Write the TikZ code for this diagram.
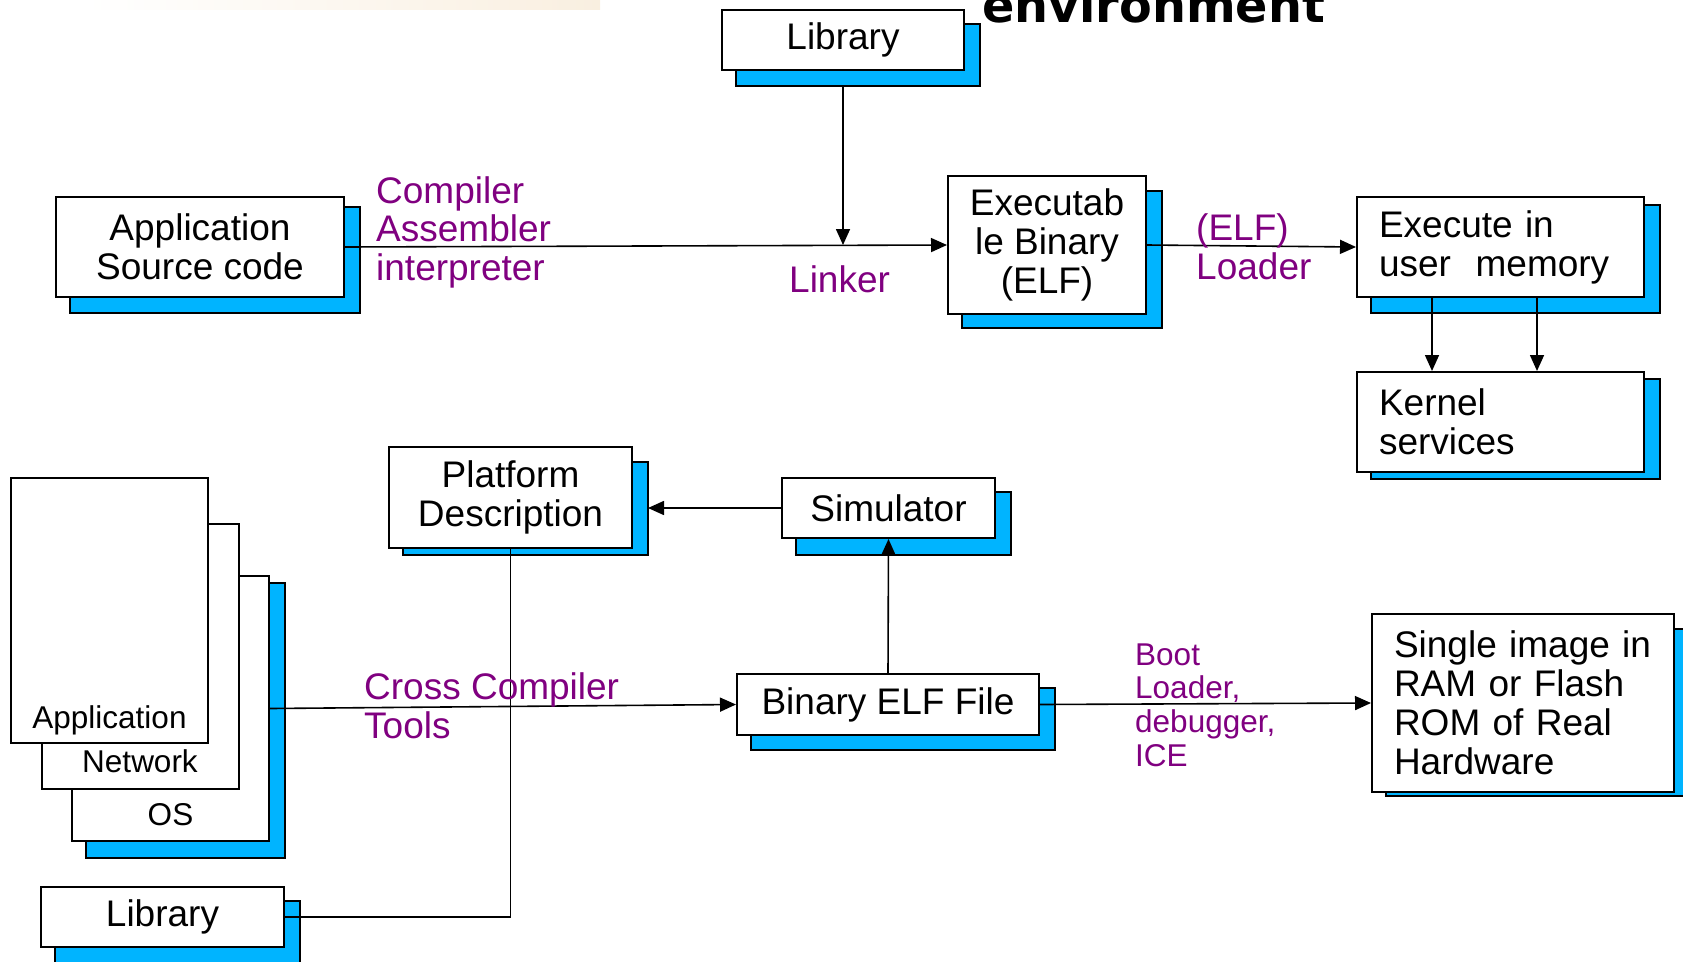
\documentclass[tikz,border=0pt]{standalone}
\usepackage{fontspec}
\setmainfont{Liberation Sans}
\newfontfamily\titlefont{DejaVu Sans}
\definecolor{shadowblue}{RGB}{0, 180, 255}
\definecolor{purple1}{RGB}{128, 0, 128}
\definecolor{beige1}{RGB}{249, 239, 224}
\usetikzlibrary{arrows.meta, positioning, calc, backgrounds}

\begin{document}
\begin{tikzpicture}[x=1pt, y=-1pt,
    box/.style={draw, fill=white, line width=2pt, inner sep=0pt, align=center, font=\fontsize{37}{39}\selectfont},
    page/.style={draw, fill=white, line width=2pt, minimum width=197pt, minimum height=265pt},
    backbox/.style={draw, fill=shadowblue, line width=1.8pt},
    pagetext/.style={anchor=base, inner sep=0pt, font=\fontsize{31.5}{33.5}\selectfont},
    tool/.style={anchor=base west, inner sep=0pt, align=left, text=purple1, font=\fontsize{37}{38.5}\selectfont},
    smalltool/.style={tool, font=\fontsize{31.5}{33.6}\selectfont},
    arr/.style={line width=1.6pt, -{Triangle[length=16pt, width=14pt]}},
    wire/.style={line width=1.6pt}]
  \useasboundingbox (0,0) rectangle (1683,961);
  \shade[left color=white, right color=beige1] (85,0) rectangle (600,9);
  \node[anchor=base west, inner sep=0pt, font=\titlefont\bfseries\fontsize{47.7}{50}\selectfont] (title) at (982,23) {environment};

  \node[box, minimum width=242pt, minimum height=60pt] (lib) at (843,40) {Library};
  \node[box, minimum width=288pt, minimum height=100pt] (src) at (200,247) {Application\\Source code};
  \node[box, minimum width=198pt, minimum height=138pt] (exe) at (1047,245) {Executab\\le Binary\\(ELF)};
  \node[box, align=left, text width=243pt, inner xsep=22pt, minimum height=100pt] (exec) at (1500.5,247) {Execute in\\user\ \ memory};
  \node[box, align=left, text width=243pt, inner xsep=22pt, minimum height=100pt] (kern) at (1500.5,422) {Kernel\\services};
  \node[box, minimum width=243pt, minimum height=101pt] (plat) at (510.5,497.5) {Platform\\Description};
  \node[box, minimum width=213pt, minimum height=60pt] (sim) at (888.5,508) {Simulator};
  \node[box, minimum width=302pt, minimum height=61pt] (bin) at (888,704.5) {Binary ELF File};
  \node[box, align=left, text width=258pt, inner xsep=22pt, minimum height=178pt] (single) at (1523,703) {Single image in\\RAM or Flash\\ROM of Real\\Hardware};
  \node[box, minimum width=243pt, minimum height=60pt] (lib2) at (162.5,917) {Library};

  \node[page] (os) at (170.5,708.5) {};
  \node[page] (net) at (140,656) {};
  \node[page] (app) at (109.5,610.5) {};
  \node[pagetext] (ostxt) at ($(os.south)+(0,-17)$) {OS};
  \node[pagetext] (nettxt) at ($(net.south)+(0,-17)$) {Network};
  \node[pagetext] (apptxt) at ($(app.south)+(0,-16)$) {Application};

  \begin{scope}[on background layer]
    \foreach \nm/\ta/\tb in {lib/15/15, src/11/15, exe/16/13, exec/9/15, kern/8/6, plat/16/6,
        sim/15/16, bin/15/14, single/16/3, os/8/16, lib2/15/15}
      \draw[backbox] ($(\nm.north west)+(15,\ta)$) rectangle ($(\nm.south east)+(15,\tb)$);
  \end{scope}

  \draw[arr] (src.east) -- (exe.west);
  \coordinate (link) at (lib.south |- exe.west);
  \draw[arr] ($(lib.south)+(0,15)$) -- (link);
  \draw[arr] (exe.east) -- (exec.west);
  \draw[arr] ($(exec.south west)+(76,0)$) -- ($(kern.north west)+(76,0)$);
  \draw[arr] ($(exec.south west)+(181,0)$) -- ($(kern.north west)+(181,0)$);
  \draw[arr] (sim.west) -- ($(sim.west -| plat.east)+(15,0)$);
  \draw[arr] (bin.north) -- (sim.south);
  \draw[arr] (os.east) -- (bin.west);
  \draw[arr] (bin.east) -- (single.west);
  \draw[wire] (lib2.east) -| (plat.south);

  \node[tool] (comp) at (376,280) {Compiler\\Assembler\\interpreter};
  \node[tool] (linker) at (789,292) {Linker};
  \node[tool] (loader) at (1196,279) {(ELF)\\Loader};
  \node[tool] (cross) at (364,738) {Cross Compiler\\Tools};
  \node[smalltool] (boot) at (1135,766) {Boot\\Loader,\\debugger,\\ICE};
\end{tikzpicture}
\end{document}
